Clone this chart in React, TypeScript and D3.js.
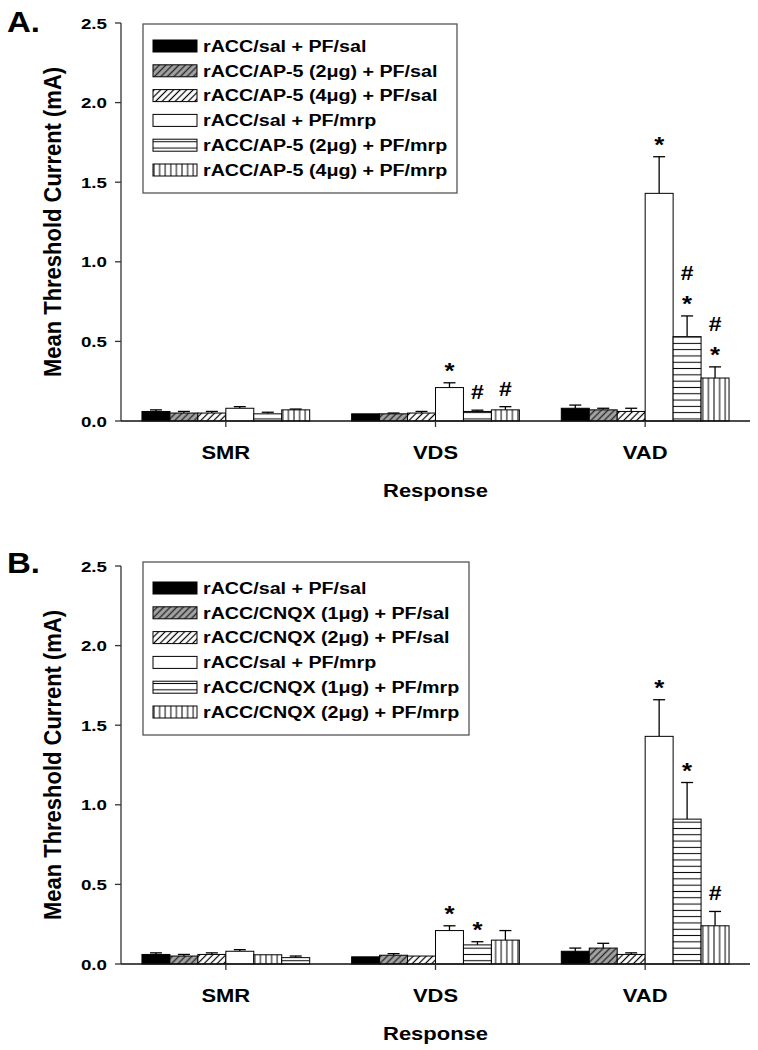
import React from "react";
import * as d3 from "d3";

const categories = ["SMR", "VDS", "VAD"];
const yTicks = [0, 0.5, 1.0, 1.5, 2.0, 2.5];
const patternKeys = ["solid", "gray", "hatch", "white", "horiz", "vert"];

const seriesNamesA = [
  "rACC/sal + PF/sal",
  "rACC/AP-5 (2\u03bcg) + PF/sal",
  "rACC/AP-5 (4\u03bcg) + PF/sal",
  "rACC/sal + PF/mrp",
  "rACC/AP-5 (2\u03bcg) + PF/mrp",
  "rACC/AP-5 (4\u03bcg) + PF/mrp",
];
// per series: [SMR, VDS, VAD]
const meansA = [
  [0.06, 0.045, 0.08],
  [0.05, 0.045, 0.07],
  [0.05, 0.05, 0.06],
  [0.08, 0.21, 1.43],
  [0.045, 0.06, 0.53],
  [0.07, 0.07, 0.27],
];
const errorsA = [
  [0.01, 0, 0.02],
  [0.01, 0.005, 0.01],
  [0.01, 0.01, 0.02],
  [0.01, 0.03, 0.23],
  [0.01, 0.008, 0.13],
  [0.005, 0.02, 0.07],
];
const marksA = [
  [[], [], []],
  [[], [], []],
  [[], [], []],
  [[], ["*"], ["*"]],
  [[], ["#"], ["#", "*"]],
  [[], ["#"], ["#", "*"]],
];

const seriesNamesB = [
  "rACC/sal + PF/sal",
  "rACC/CNQX (1\u03bcg) + PF/sal",
  "rACC/CNQX (2\u03bcg) + PF/sal",
  "rACC/sal + PF/mrp",
  "rACC/CNQX (1\u03bcg) + PF/mrp",
  "rACC/CNQX (2\u03bcg) + PF/mrp",
];
const meansB = [
  [0.06, 0.045, 0.08],
  [0.05, 0.055, 0.1],
  [0.06, 0.05, 0.06],
  [0.08, 0.21, 1.43],
  [0.058, 0.12, 0.91],
  [0.04, 0.15, 0.24],
];
const errorsB = [
  [0.01, 0, 0.02],
  [0.01, 0.01, 0.03],
  [0.01, 0, 0.01],
  [0.01, 0.03, 0.23],
  [0, 0.02, 0.23],
  [0.01, 0.06, 0.09],
];
const marksB = [
  [[], [], []],
  [[], [], []],
  [[], [], []],
  [[], ["*"], ["*"]],
  [[], ["*"], ["*"]],
  [[], [], ["#"]],
];
// in the original figure the SMR bars 5 and 6 of panel B show swapped fills
const overridesB = [
  { category: "SMR", series: 4, pattern: "vert" },
  { category: "SMR", series: 5, pattern: "horiz" },
];

const FONT = "'Liberation Sans', Arial, Helvetica, sans-serif";
const SX = 1.22;

function fillFor(key: string) {
  if (key === "solid") return "#000";
  if (key === "white") return "#fff";
  return `url(#p-${key})`;
}

function SText(props: any) {
  const { x, y, size, anchor = "start", sx = SX, children } = props;
  return (
    <text
      transform={`translate(${x},${y}) scale(${sx},1)`}
      fontSize={size}
      fontWeight="bold"
      fontFamily={FONT}
      textAnchor={anchor}
      fill="#000"
    >
      {children}
    </text>
  );
}

function Panel(props: any) {
  const { letter, letterY, yTop, yBottom, names, means, errors, marks, overrides, boxTop, firstY, boxRight } = props;
  const xLeft = 121;
  const xRight = 750;
  const x0 = d3.scaleBand<string>().domain(categories).range([xLeft, xRight]).paddingInner(0.2).paddingOuter(0.1);
  const x1 = d3.scaleBand<number>().domain(d3.range(names.length)).range([0, x0.bandwidth()]);
  const y = d3.scaleLinear().domain([0, 2.5]).range([yBottom, yTop]);
  const bw = x1.bandwidth();
  const spacing = 24.8;
  const boxBottom = firstY + spacing * (names.length - 1) + 23;

  const bars: any[] = [];
  const annots: any[] = [];
  names.forEach((_: string, si: number) => {
    categories.forEach((cat, ci) => {
      const m = means[si][ci];
      const e = errors[si][ci];
      const bx = (x0(cat) as number) + (x1(si) as number);
      const cx = bx + bw / 2;
      const ov = (overrides || []).find((o: any) => o.category === cat && o.series === si);
      const key = ov ? ov.pattern : patternKeys[si];
      bars.push(
        <g key={`b-${si}-${ci}`}>
          {e > 0 && (
            <g stroke="#000" strokeWidth={1.3}>
              <line x1={cx} x2={cx} y1={y(m)} y2={y(m + e)} />
              <line x1={cx - 6} x2={cx + 6} y1={y(m + e)} y2={y(m + e)} />
            </g>
          )}
          <rect x={bx} y={y(m)} width={bw} height={yBottom - y(m)} fill={fillFor(key)} stroke="#000" strokeWidth={1} />
        </g>
      );
      const list: string[] = marks[si][ci];
      const n = list.length;
      list.forEach((s, k) => {
        const level = n - 1 - k;
        const cy = y(m + e) - 18 - level * 25;
        const isStar = s === "*";
        annots.push(
          <SText
            key={`a-${si}-${ci}-${k}`}
            x={cx}
            y={isStar ? cy + 13 : cy + 7}
            size={isStar ? 23 : 20}
            anchor="middle"
            sx={isStar ? 1.12 : 1.15}
          >
            {s}
          </SText>
        );
      });
    });
  });

  return (
    <g>
      <SText x={7} y={letterY} size={30} sx={1.1}>
        {letter}
      </SText>
      {/* legend */}
      <rect x={143} y={boxTop} width={boxRight - 143} height={boxBottom - boxTop} fill="#fff" stroke="#555" strokeWidth={1.3} />
      {names.map((nm: string, i: number) => {
        const cy = firstY + i * spacing;
        return (
          <g key={`l-${i}`}>
            <rect x={153} y={cy - 6} width={44} height={12} fill={fillFor(patternKeys[i])} stroke="#000" strokeWidth={1} />
            <SText x={203} y={cy + 5.7} size={16} sx={1.23}>
              {nm}
            </SText>
          </g>
        );
      })}
      {bars}
      {annots}
      {/* axes */}
      <line x1={xLeft} x2={xLeft} y1={yTop} y2={yBottom} stroke="#333" strokeWidth={1.3} />
      <line x1={xLeft} x2={xRight} y1={yBottom} y2={yBottom} stroke="#111" strokeWidth={1.6} />
      {yTicks.map((t) => (
        <g key={`yt-${t}`}>
          <line x1={xLeft - 6} x2={xLeft} y1={y(t)} y2={y(t)} stroke="#333" strokeWidth={1.3} />
          <SText x={107} y={y(t) + 5.6} size={15.5} anchor="end" sx={1.21}>
            {t.toFixed(1)}
          </SText>
        </g>
      ))}
      {categories.map((c) => {
        const cx = (x0(c) as number) + x0.bandwidth() / 2;
        return (
          <g key={`xt-${c}`}>
            <line x1={cx} x2={cx} y1={yBottom} y2={yBottom + 6} stroke="#333" strokeWidth={1.3} />
            <SText x={cx} y={yBottom + 37.5} size={18} anchor="middle">
              {c}
            </SText>
          </g>
        );
      })}
      <SText x={(xLeft + xRight) / 2} y={yBottom + 75.5} size={18} anchor="middle">
        Response
      </SText>
      <text
        transform={`translate(61,${(yTop + yBottom) / 2}) rotate(-90) scale(1,1.08)`}
        fontSize={22}
        fontWeight="bold"
        fontFamily={FONT}
        textAnchor="middle"
        fill="#000"
      >
        Mean Threshold Current (mA)
      </text>
    </g>
  );
}

export default function App() {
  return (
    <svg width={758} height={1050} style={{ position: "absolute", left: 0, top: 0, background: "#fff" }}>
      <defs>
        <pattern id="p-gray" patternUnits="userSpaceOnUse" width={4.6} height={4.6} patternTransform="rotate(45)">
          <rect width={4.6} height={4.6} fill="#a4a4a4" />
          <line x1={2.3} x2={2.3} y1={0} y2={4.6} stroke="#2a2a2a" strokeWidth={1.4} />
        </pattern>
        <pattern id="p-hatch" patternUnits="userSpaceOnUse" width={4.6} height={4.6} patternTransform="rotate(45)">
          <rect width={4.6} height={4.6} fill="#fff" />
          <line x1={2.3} x2={2.3} y1={0} y2={4.6} stroke="#000" strokeWidth={1.2} />
        </pattern>
        <pattern id="p-horiz" patternUnits="userSpaceOnUse" width={10} height={6.3}>
          <rect width={10} height={6.3} fill="#fff" />
          <line x1={0} x2={10} y1={3.15} y2={3.15} stroke="#000" strokeWidth={1} />
        </pattern>
        <pattern id="p-vert" patternUnits="userSpaceOnUse" width={5.6} height={10}>
          <rect width={5.6} height={10} fill="#fff" />
          <line x1={2.8} x2={2.8} y1={0} y2={10} stroke="#000" strokeWidth={1} />
        </pattern>
      </defs>
      <rect width={758} height={1050} fill="#fff" />
      <Panel
        letter="A."
        letterY={32}
        yTop={23}
        yBottom={421}
        names={seriesNamesA}
        means={meansA}
        errors={errorsA}
        marks={marksA}
        overrides={[]}
        boxTop={24}
        firstY={46}
        boxRight={457}
      />
      <Panel
        letter="B."
        letterY={573}
        yTop={566}
        yBottom={964}
        names={seriesNamesB}
        means={meansB}
        errors={errorsB}
        marks={marksB}
        overrides={overridesB}
        boxTop={562}
        firstY={588}
        boxRight={469}
      />
    </svg>
  );
}
